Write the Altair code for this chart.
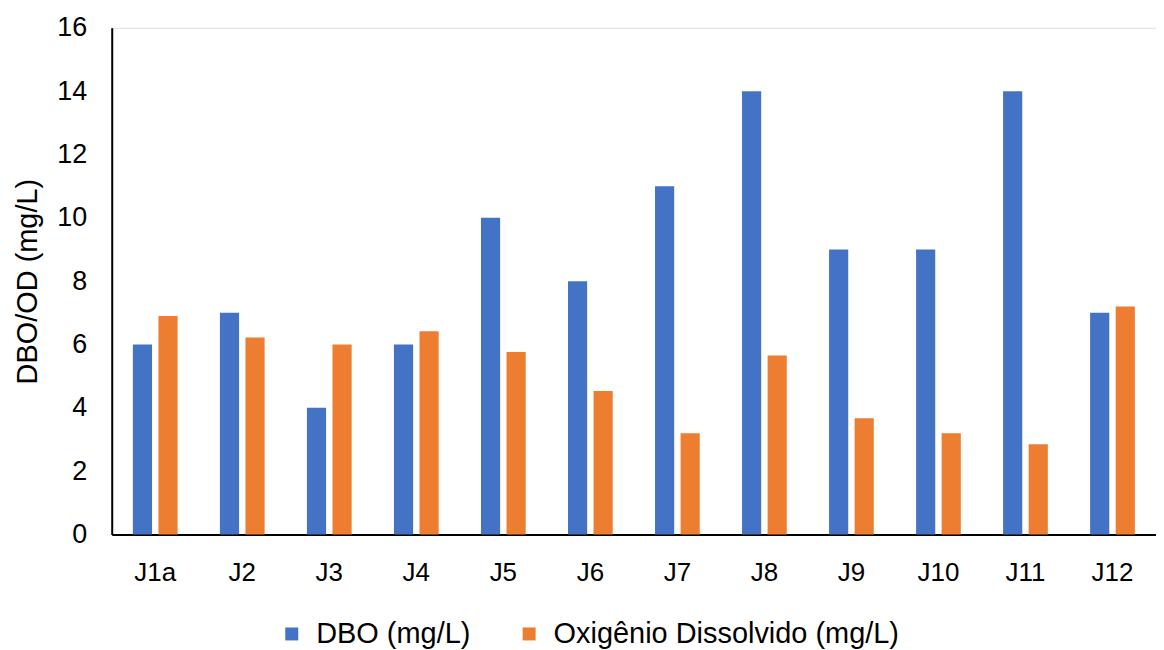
import altair as alt
import pandas as pd

categories = ["J1a", "J2", "J3", "J4", "J5", "J6", "J7", "J8", "J9", "J10", "J11", "J12"]
dbo = [6, 7, 4, 6, 10, 8, 11, 14, 9, 9, 14, 7]
od = [6.9, 6.22, 6.0, 6.42, 5.76, 4.53, 3.2, 5.65, 3.67, 3.2, 2.85, 7.2]
series_names = ["DBO (mg/L)", "Oxigênio Dissolvido (mg/L)"]
colors = ["#4472C4", "#ED7D31"]

rows = []
for c, a, b in zip(categories, dbo, od):
    rows.append({"cat": c, "serie": series_names[0], "val": a})
    rows.append({"cat": c, "serie": series_names[1], "val": b})
df = pd.DataFrame(rows)

font = "Liberation Sans"

chart = alt.Chart(df).mark_bar().encode(
    x=alt.X("cat:N", sort=categories, title=None,
            scale=alt.Scale(paddingInner=0.486, paddingOuter=0.243),
            axis=alt.Axis(labelAngle=0, labelFontSize=26, labelFont=font, labelColor="#000000",
                          labelPadding=25, ticks=False, domainColor="#000000", domainWidth=2)),
    xOffset=alt.XOffset("serie:N", sort=series_names, scale=alt.Scale(paddingInner=0.25)),
    y=alt.Y("val:Q", title="DBO/OD (mg/L)",
            scale=alt.Scale(domain=[0, 16]),
            axis=alt.Axis(values=list(range(0, 17, 2)), grid=False, ticks=False,
                          labelFontSize=27, labelFont=font, labelColor="#000000", labelPadding=25,
                          titleFontSize=29, titleFont=font, titleFontWeight="normal", titleColor="#000000",
                          titlePadding=14, domainColor="#000000", domainWidth=2)),
    color=alt.Color("serie:N", sort=series_names,
                    scale=alt.Scale(domain=series_names, range=colors),
                    legend=alt.Legend(title=None, orient="none", direction="horizontal",
                                      legendX=166, legendY=593,
                                      symbolType="square", symbolSize=169, symbolStrokeWidth=0,
                                      symbolOffset=0, labelOffset=10,
                                      labelFontSize=29, labelFont=font, labelColor="#000000",
                                      columnPadding=44, labelLimit=500)),
).properties(
    width=1047, height=508
).configure_view(stroke=None).configure(padding={"left": 5, "top": 5, "right": 0, "bottom": 5})

chart.save("out.html", embed_options={"renderer": "svg", "actions": False})
